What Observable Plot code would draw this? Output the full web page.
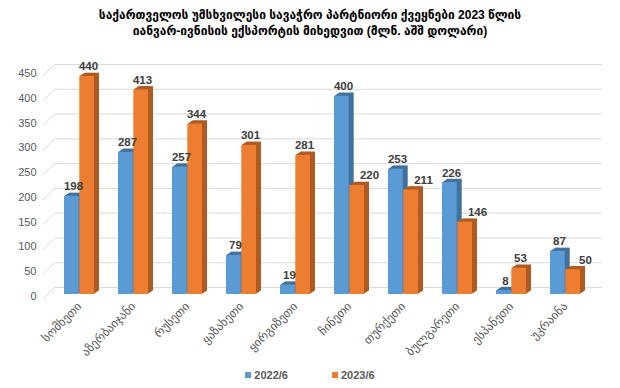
<!DOCTYPE html>
<html><head><meta charset="utf-8">
<script src="https://cdn.jsdelivr.net/npm/d3@7"></script>
<script src="https://cdn.jsdelivr.net/npm/@observablehq/plot@0.6"></script>
<style>
body{margin:0;background:#fff;font-family:"Liberation Sans","DejaVu Sans",Arial,sans-serif;}
#wrap{width:620px;height:388px;position:relative;overflow:hidden;background:#fff}
#title{position:absolute;top:7px;left:0;width:620px;text-align:center;font-weight:bold;font-size:12px;line-height:16px;color:#000}
#chart{position:absolute;top:44px;left:0}
#legend{position:absolute;top:369px;left:0;width:620px;text-align:center;font-size:11px;font-weight:bold;color:#595959}
#legend span.sw{display:inline-block;width:6px;height:6px;margin-right:3px;vertical-align:1px}
#legend span.it{margin:0 22px}
</style></head><body>
<div id="wrap">
<div id="title">საქართველოს უმსხვილესი სავაჭრო პარტნიორი ქვეყნები 2023 წლის<br>იანვარ-ივნისის ექსპორტის მიხედვით (მლნ. აშშ დოლარი)</div>
<div id="chart"></div>
<div id="legend"></div>
</div>
<script>
const countries = ["სომხეთი","აზერბაიჯანი","რუსეთი","ყაზახეთი","ყირგიზეთი","ჩინეთი","თურქეთი","ბულგარეთი","ესპანეთი","უკრაინა"];
const v2022 = [198,287,257,79,19,400,253,226,8,87];
const v2023 = [440,413,344,301,281,220,211,146,53,50];
const seriesNames = ["2022/6","2023/6"];
const yTicks = [0,50,100,150,200,250,300,350,400,450];

const colors = {front:["#5B9BD5","#ED7D31"], side:["#41719C","#AE5A21"]};
const data = countries.map((c,i)=>({country:c, a:v2022[i], b:v2023[i]}));

const inA = {insetLeft:12, insetRight:27.3};
const inB = {insetLeft:27.3, insetRight:12};
const steps = [1,2,3,4,5];
function extrude(key, color, ins){
  return steps.map(s => Plot.barY(data, {x:"country", y:key, fill:color, ...ins, dx:s, dy:-s*0.65}));
}
function connectors(...args){
  const sc = args.find(a => a && typeof a.y === "function");
  const dim = args.find(a => a && typeof a === "object" && "marginLeft" in a);
  const g = d3.create("svg:g").attr("stroke","#D9D9D9").attr("stroke-width",1);
  for (const t of yTicks){
    const y = sc.y(t);
    g.append("line").attr("x1", dim.marginLeft-5).attr("y1", y+5).attr("x2", dim.marginLeft+7).attr("y2", y-7);
  }
  return g.node();
}

const chart = Plot.plot({
  width: 620, height: 325,
  marginLeft: 48, marginRight: 25, marginTop: 27, marginBottom: 75,
  style: {fontSize:"11px", color:"#595959", fontFamily:"'Liberation Sans','DejaVu Sans',Arial,sans-serif", background:"transparent"},
  x: {type:"band", domain: countries, padding: 0, label:null},
  y: {domain:[0,450], label:null},
  marks: [
    Plot.ruleY(yTicks, {stroke:"#D9D9D9", dx:7, dy:-7}),
    connectors,
    Plot.axisY(yTicks, {tickSize:0, tickPadding:12, dy:2, label:null}),
    Plot.axisX({tickRotate:-45, tickSize:0, tickPadding:10, label:null, fontSize:12}),
    ...extrude("a", colors.side[0], inA),
    Plot.barY(data, {x:"country", y:"a", fill:colors.front[0], ...inA}),
    ...extrude("b", colors.side[1], inB),
    Plot.barY(data, {x:"country", y:"b", fill:colors.front[1], ...inB}),
    Plot.text(data, {x:"country", y:"a", text:d=>String(d.a), dx:-6, dy:-6, lineAnchor:"bottom", fill:"#404040", fontWeight:"bold", fontSize:11.5}),
    Plot.text(data.filter(d=>d.b>=d.a), {x:"country", y:"b", text:d=>String(d.b), dx:9, dy:-6, lineAnchor:"bottom", fill:"#404040", fontWeight:"bold", fontSize:11.5}),
    Plot.text(data.filter(d=>d.b<d.a), {x:"country", y:"b", text:d=>String(d.b), dx:20, dy:-6, lineAnchor:"bottom", fill:"#404040", fontWeight:"bold", fontSize:11.5})
  ]
});
document.getElementById("chart").appendChild(chart);
document.getElementById("legend").innerHTML = seriesNames.map((n,i)=>`<span class="it"><span class="sw" style="background:${colors.front[i]}"></span>${n}</span>`).join("");
</script>
</body></html>
